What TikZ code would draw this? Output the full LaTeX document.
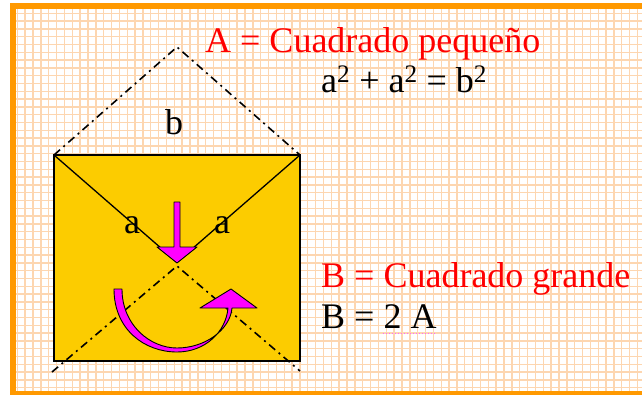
\documentclass[tikz,border=0pt]{standalone}
\usepackage{fontspec}
\setmainfont{Liberation Serif}
\definecolor{frame_col}{RGB}{255,153,0}
\definecolor{grid_col}{RGB}{253,214,176}
\definecolor{sq_col}{RGB}{252,204,0}
\definecolor{arr_col}{RGB}{255,0,255}
\definecolor{txt_red}{RGB}{255,0,0}

\begin{document}
\begin{tikzpicture}[
    x=1pt, y=-1pt,
    every node/.style={font=\fontsize{36}{40}\selectfont, inner sep=0pt},
    lbl/.style={anchor=base west},
    gridln/.style={draw=grid_col, line width=1.4pt},
    dashdot/.style={line width=1.6pt, dash pattern=on 8pt off 4.5pt on 2pt off 4.5pt},
    arrfill/.style={fill=arr_col, draw=black, line width=0.9pt, line join=round},
]
  \useasboundingbox (0,0) rectangle (642,394);
  \clip (0,0) rectangle (642,394);
  % squared paper and frame
  \fill[white] (0,0) rectangle (642,394);
  \foreach \i in {0,...,79}
    \draw[gridln] ({17.3+7.85*\i},9.3) -- ({17.3+7.85*\i},391);
  \foreach \j in {0,...,48}
    \draw[gridln] (16,{13.3+7.8*\j}) -- (642,{13.3+7.8*\j});
  \draw[frame_col, line width=6.3pt] (12.7,6.3) rectangle (660,394.5);

  \coordinate (TL) at (54,155);
  \coordinate (TR) at (300,155);
  \coordinate (BR) at (300,361);
  \coordinate (top) at (177,47);
  \coordinate (mid) at (177,262);
  \coordinate (low) at (177,266);
  \coordinate (endL) at (52,372);
  \coordinate (endR) at (300,371);

  % big square with the small one folded in
  \fill[sq_col] (TL) rectangle (BR);
  \draw[line width=1.8pt] (TL) rectangle (BR);
  \draw[line width=1.3pt] (TL) -- (mid) -- (TR);
  \draw[dashdot] (TL) -- (top) -- (TR);
  \draw[dashdot] (endL) -- (low) -- (endR);

  \node[anchor=base] (lb) at (174,134) {b};
  \node[anchor=base] (la1) at (132,233) {a};
  \node[anchor=base] (la2) at (222,233) {a};

  % fold arrows
  \draw[arrfill] (174,202) -- (180,202) -- (180,247) -- (197,247) -- (177,263)
    -- (157,247) -- (174,247) -- cycle;
  \draw[arrfill] (114,289) .. controls (114,330) and (145,352) .. (177,352)
    .. controls (205,352) and (226,332) .. (228,308) -- (200,308) -- (231,289)
    -- (257,308) -- (232,308) .. controls (230,330) and (205,348) .. (177,348)
    .. controls (150,348) and (122,325) .. (122,289) -- cycle;

  % texts
  \node[lbl, text=txt_red] (defA) at (205,52) {A = Cuadrado pequeño};
  \node[lbl] (pyth) at (321,92) {a\textsuperscript{2} + a\textsuperscript{2} = b\textsuperscript{2}};
  \node[lbl, text=txt_red] (defB) at (321,287) {B = Cuadrado grande};
  \node[lbl] (eqB) at (321,328) {B = 2 A};
  \coordinate (ulA) at (383,333.5);
  \coordinate (ulB) at (436,333.5);
  \draw[arr_col!60, dotted, line width=1pt] (ulA) -- (ulB);
\end{tikzpicture}
\end{document}
